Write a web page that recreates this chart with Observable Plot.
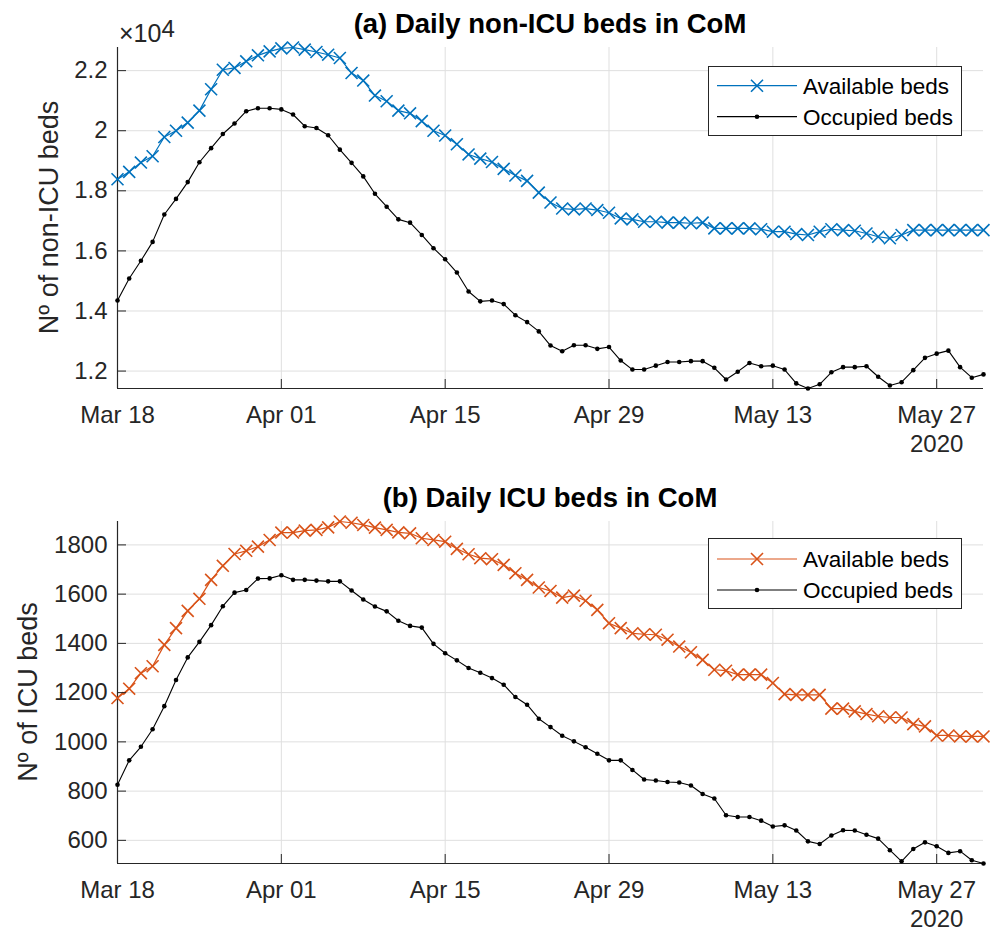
<!DOCTYPE html>
<html>
<head>
<meta charset="utf-8">
<script src="https://cdn.jsdelivr.net/npm/d3@7"></script>
<script src="https://cdn.jsdelivr.net/npm/@observablehq/plot@0.6"></script>
<style>
  body { margin: 0; background: #fff; }
  #root { position: relative; width: 995px; height: 933px; overflow: hidden; background: #fff;
          font-family: "Liberation Sans", Arial, Helvetica, sans-serif; }
  .panel { position: absolute; left: 0; }
  #overlay { position: absolute; left: 0; top: 0; pointer-events: none; }
</style>
</head>
<body>
<div id="root">
  <div id="pa" class="panel" style="top:0px"></div>
  <div id="pb" class="panel" style="top:470px"></div>
  <svg id="overlay" width="995" height="933"></svg>
</div>
<script>
// ---------------- DATA ----------------
const startDate = "2020-03-18";   // first day of the series (daily data to May 31)
const xTickDates = ["2020-03-18", "2020-04-01", "2020-04-15", "2020-04-29", "2020-05-13", "2020-05-27"];
const xTickLabels = ["Mar 18", "Apr 01", "Apr 15", "Apr 29", "May 13", "May 27"];
const yearLabel = "2020";

const seriesNames = ["Available beds", "Occupied beds"];

const nonIcuAvailable = [
  18385, 18630, 18940, 19150, 19790, 20000, 20270, 20670, 21380, 22030,
  22090, 22310, 22510, 22640, 22740, 22770, 22700, 22620, 22530, 22420,
  21920, 21670, 21170, 20980, 20670, 20580, 20320, 20000, 19840, 19550,
  19210, 19070, 18960, 18730, 18510, 18330, 17940, 17610, 17410, 17380,
  17410, 17360, 17270, 17080, 17050, 16970, 16970, 16940, 16940, 16920,
  16940, 16750, 16750, 16750, 16750, 16720, 16640, 16640, 16560, 16530,
  16640, 16720, 16690, 16670, 16580, 16470, 16420, 16530, 16690, 16690,
  16690, 16690, 16690, 16690, 16690
];
const nonIcuOccupied = [
  14350, 15080, 15670, 16300, 17210, 17730, 18290, 18950, 19420, 19890,
  20240, 20650, 20750, 20750, 20710, 20540, 20150, 20090, 19850, 19370,
  18930, 18480, 17900, 17470, 17050, 16940, 16530, 16090, 15720, 15280,
  14650, 14320, 14350, 14230, 13860, 13630, 13320, 12850, 12660, 12860,
  12860, 12740, 12800, 12350, 12050, 12050, 12180, 12300, 12300, 12330,
  12330, 12110, 11720, 11980, 12270, 12160, 12180, 12050, 11590, 11420,
  11560, 11960, 12130, 12130, 12160, 11810, 11520, 11630, 12030, 12440,
  12580, 12680, 12130, 11780, 11890
];
const icuAvailable = [
  1178, 1216, 1279, 1307, 1394, 1462, 1532, 1581, 1658, 1715,
  1763, 1776, 1793, 1820, 1850, 1850, 1858, 1861, 1871, 1895,
  1890, 1881, 1870, 1861, 1851, 1847, 1827, 1820, 1813, 1784,
  1762, 1746, 1742, 1719, 1685, 1658, 1627, 1613, 1586, 1594,
  1573, 1536, 1482, 1462, 1441, 1437, 1435, 1415, 1387, 1364,
  1333, 1293, 1289, 1273, 1273, 1273, 1239, 1194, 1191, 1191,
  1191, 1135, 1135, 1124, 1113, 1104, 1099, 1099, 1072, 1063,
  1026, 1026, 1022, 1022, 1022
];
const icuOccupied = [
  826, 925, 980, 1051, 1145, 1251, 1343, 1406, 1474, 1551,
  1606, 1617, 1663, 1664, 1677, 1658, 1658, 1655, 1652, 1652,
  1615, 1578, 1550, 1530, 1492, 1471, 1464, 1398, 1360, 1331,
  1300, 1281, 1259, 1232, 1182, 1151, 1094, 1060, 1025, 1002,
  978, 952, 925, 925, 886, 847, 843, 837, 835, 823,
  788, 770, 702, 695, 695, 680, 656, 661, 640, 596,
  585, 620, 641, 640, 623, 607, 560, 515, 565, 592,
  576, 549, 556, 519, 506
];

const nonIcuTicks = [12000, 14000, 16000, 18000, 20000, 22000];
const nonIcuTickLabels = ["1.2", "1.4", "1.6", "1.8", "2", "2.2"];
const icuTicks = [600, 800, 1000, 1200, 1400, 1600, 1800];
const icuTickLabels = ["600", "800", "1000", "1200", "1400", "1600", "1800"];

const titleA = "(a) Daily non-ICU beds in CoM";
const titleB = "(b) Daily ICU beds in CoM";
const ylabelA = "Nº of non-ICU beds";
const ylabelB = "Nº of ICU beds";

const colorAvailA = "#0072BD";
const colorAvailB = "#D95319";
const colorOcc = "#000000";

// ---------------- CHART ----------------
const FONT = "Liberation Sans, Arial, Helvetica, sans-serif";
const INK = "#262626";
const GRID = "#dfdfdf";
const dates = nonIcuAvailable.map((_, i) => d3.utcDay.offset(new Date(startDate), i));
const xTicksD = xTickDates.map(s => new Date(s));
const xLabelMap = new Map(xTicksD.map((d, i) => [+d, xTickLabels[i]]));

function panel({avail, occ, color, yTicks, yTickLabels, height, marginTop, marginBottom}) {
  const rowsA = dates.map((d, i) => ({date: d, value: avail[i]}));
  const rowsO = dates.map((d, i) => ({date: d, value: occ[i]}));
  const yExt = d3.extent([...avail, ...occ]);
  const yLabelMap = new Map(yTicks.map((t, i) => [t, yTickLabels[i]]));
  return Plot.plot({
    width: 995, height,
    marginLeft: 117, marginRight: 12, marginTop, marginBottom,
    style: {fontFamily: FONT, background: "transparent", overflow: "visible"},
    x: {type: "utc", domain: [dates[0], dates[dates.length - 1]]},
    y: {domain: yExt},
    marks: [
      Plot.gridX(xTicksD, {stroke: GRID, strokeOpacity: 1}),
      Plot.gridY(yTicks, {stroke: GRID, strokeOpacity: 1}),
      Plot.ruleX([dates[0]], {stroke: INK, strokeWidth: 1.2}),
      Plot.ruleY([yExt[0]], {stroke: INK, strokeWidth: 1.2}),
      Plot.line(rowsA, {x: "date", y: "value", stroke: color, strokeWidth: 1.2}),
      Plot.dot(rowsA, {x: "date", y: "value", symbol: "times", r: 5.5, stroke: color, strokeWidth: 1.6}),
      Plot.line(rowsO, {x: "date", y: "value", stroke: colorOcc, strokeWidth: 1.1}),
      Plot.dot(rowsO, {x: "date", y: "value", r: 2.3, fill: colorOcc, stroke: null}),
      Plot.axisX(xTicksD, {tickSize: -9, tickPadding: 26, tickFormat: d => xLabelMap.get(+d),
        fontSize: 24, color: INK, label: null}),
      Plot.axisY(yTicks, {tickSize: -9, tickPadding: 19, tickFormat: d => yLabelMap.get(d),
        fontSize: 24, color: INK, label: null}),
      Plot.text([xTicksD[xTicksD.length - 1]], {x: d => d, frameAnchor: "bottom", dy: 46,
        lineAnchor: "top", text: () => yearLabel, fontSize: 24, fill: INK})
    ]
  });
}

document.getElementById("pa").appendChild(panel({
  avail: nonIcuAvailable, occ: nonIcuOccupied, color: colorAvailA,
  yTicks: nonIcuTicks, yTickLabels: nonIcuTickLabels,
  height: 460, marginTop: 47, marginBottom: 72
}));
document.getElementById("pb").appendChild(panel({
  avail: icuAvailable, occ: icuOccupied, color: colorAvailB,
  yTicks: icuTicks, yTickLabels: icuTickLabels,
  height: 463, marginTop: 51, marginBottom: 70
}));

// ---------------- OVERLAY: titles, y labels, exponent, legends ----------------
const ov = d3.select("#overlay").style("font-family", FONT);
function title(txt, y) {
  ov.append("text").attr("x", 550).attr("y", y).attr("text-anchor", "middle")
    .attr("font-weight", "bold").attr("font-size", 27.5).attr("fill", "#000").text(txt);
}
title(titleA, 33);
title(titleB, 507);

function ylabel(txt, xBase, yCenter) {
  ov.append("text").attr("transform", `translate(${xBase},${yCenter}) rotate(-90)`)
    .attr("text-anchor", "middle").attr("font-size", 27).attr("fill", INK).text(txt);
}
ylabel(ylabelA, 58, 217.5);
ylabel(ylabelB, 37, 692);

const ex = ov.append("text").attr("x", 119).attr("y", 42).attr("font-size", 25).attr("fill", INK);
ex.append("tspan").text("×10");
ex.append("tspan").attr("font-size", 24).attr("dy", -5).text("4");

function legend(x, y, w, h, rowYs, color) {
  const g = ov.append("g");
  g.append("rect").attr("x", x + 0.5).attr("y", y + 0.5).attr("width", w).attr("height", h)
    .attr("fill", "#fff").attr("stroke", INK).attr("stroke-width", 1);
  const cols = [color, colorOcc];
  rowYs.forEach((ry, i) => {
    g.append("line").attr("x1", x + 9).attr("x2", x + 89).attr("y1", ry).attr("y2", ry)
      .attr("stroke", cols[i]).attr("stroke-width", 1.2);
    const mx = x + 49;
    if (i === 0) {
      g.append("path").attr("d", `M${mx-6},${ry-6}L${mx+6},${ry+6}M${mx-6},${ry+6}L${mx+6},${ry-6}`)
        .attr("stroke", cols[i]).attr("stroke-width", 1.6);
    } else {
      g.append("circle").attr("cx", mx).attr("cy", ry).attr("r", 2.3).attr("fill", cols[i]);
    }
    g.append("text").attr("x", x + 95).attr("y", ry + 8).attr("font-size", 22.5)
      .attr("fill", "#000").text(seriesNames[i]);
  });
}
legend(708, 66, 253, 69, [85.7, 116.7], colorAvailA);
legend(708, 538, 253, 70, [559, 590], colorAvailB);
</script>
</body>
</html>
